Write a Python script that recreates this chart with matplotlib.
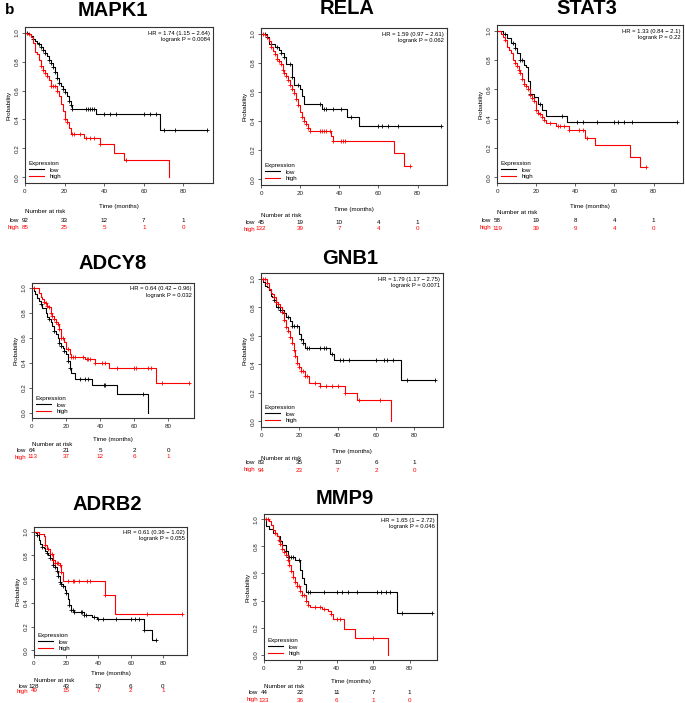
import numpy as np
import matplotlib
matplotlib.use('Agg')
import matplotlib.pyplot as plt
from matplotlib.transforms import blended_transform_factory

plt.rcParams['font.family'] = ['Liberation Sans', 'DejaVu Sans']

W, H = 685, 703
RED = '#ff0000'

# ---- data: step times / survival after step / censor times ----
mapk1_low_t = [2, 3, 4, 5, 6, 7, 8, 9, 10, 11, 12, 13, 14, 15, 16, 17, 18, 19, 20, 21, 22, 23, 24, 36, 68]
mapk1_low_s = [0.99, 0.98, 0.96, 0.94, 0.93, 0.92, 0.90, 0.88, 0.86, 0.84, 0.81, 0.79, 0.76, 0.73, 0.69, 0.65,
               0.63, 0.61, 0.59, 0.56, 0.53, 0.50, 0.47, 0.44, 0.33]
mapk1_low_c = [1, 4, 7, 8, 9, 10, 12, 13, 14, 15, 16, 17, 19, 20, 22, 23, 24, 31, 32, 33, 34, 35, 40, 43, 46,
               60, 63, 66, 70, 76, 92]
mapk1_high_t = [1, 3, 4, 5, 6, 7, 8, 9, 10, 11, 12, 13, 16, 17, 18, 19, 20, 21, 22, 23, 30, 38, 45, 50, 73]
mapk1_high_s = [0.99, 0.97, 0.93, 0.87, 0.85, 0.81, 0.77, 0.74, 0.72, 0.70, 0.67, 0.63, 0.60, 0.56, 0.51, 0.46,
                0.40, 0.38, 0.34, 0.30, 0.27, 0.23, 0.17, 0.12, 0.0]
mapk1_high_c = [2, 8, 9, 10, 11, 13, 14, 15, 16, 20, 21, 24, 25, 28, 31, 33, 35, 38, 51]

rela_low_t = [3, 4, 7, 9, 10, 12, 13, 16, 17, 20, 21, 22, 31, 44, 50]
rela_low_s = [0.98, 0.93, 0.91, 0.89, 0.87, 0.84, 0.79, 0.70, 0.645, 0.62, 0.57, 0.52, 0.48, 0.43, 0.365]
rela_low_c = [2, 3, 8, 10, 12, 15, 16, 19, 30, 32, 33, 37, 41, 46, 60, 62, 65, 70, 92]
rela_high_t = [2, 3, 4, 5, 6, 7, 8, 9, 10, 11, 12, 13, 14, 15, 16, 17, 18, 19, 20, 21, 22, 23, 24, 25, 36, 37,
               68, 73]
rela_high_s = [0.99, 0.97, 0.95, 0.91, 0.88, 0.86, 0.83, 0.81, 0.79, 0.75, 0.73, 0.71, 0.68, 0.65, 0.62, 0.59,
               0.55, 0.51, 0.46, 0.43, 0.40, 0.38, 0.35, 0.33, 0.30, 0.26, 0.18, 0.094]
rela_high_c = [1, 5, 7, 8, 9, 10, 11, 12, 13, 14, 15, 16, 17, 18, 19, 21, 22, 23, 24, 25, 30, 31, 32, 33, 35,
               37, 41, 42, 43, 76]

stat3_low_t = [3, 5, 7, 9, 10, 12, 14, 15, 16, 17, 19, 21, 23, 25, 36]
stat3_low_s = [0.98, 0.95, 0.92, 0.88, 0.85, 0.80, 0.77, 0.75, 0.66, 0.57, 0.55, 0.50, 0.46, 0.42, 0.375]
stat3_low_c = [4, 8, 9, 12, 13, 17, 22, 33, 41, 44, 51, 60, 62, 65, 69, 92]
stat3_high_t = [2, 3, 4, 5, 6, 7, 8, 9, 10, 11, 12, 13, 14, 15, 16, 17, 18, 19, 20, 21, 22, 23, 24, 25, 30, 37,
                45, 50, 68, 73]
stat3_high_s = [0.98, 0.96, 0.94, 0.89, 0.87, 0.85, 0.80, 0.78, 0.76, 0.73, 0.71, 0.67, 0.64, 0.62, 0.60, 0.56,
                0.54, 0.52, 0.46, 0.44, 0.43, 0.41, 0.39, 0.37, 0.35, 0.32, 0.27, 0.22, 0.14, 0.07]
stat3_high_c = [4, 9, 10, 11, 12, 13, 14, 15, 16, 17, 18, 19, 20, 21, 22, 23, 24, 27, 31, 32, 34, 37, 42, 44,
                46, 76]

adcy8_low_t = [1, 2, 3, 4, 5, 6, 8, 9, 10, 11, 12, 13, 14, 15, 16, 17, 18, 19, 20, 21, 22, 23, 25, 35, 50, 68]
adcy8_low_s = [0.98, 0.95, 0.92, 0.90, 0.87, 0.84, 0.80, 0.77, 0.75, 0.73, 0.70, 0.66, 0.63, 0.60, 0.56, 0.54,
               0.52, 0.50, 0.47, 0.42, 0.36, 0.32, 0.27, 0.225, 0.15, 0.0]
adcy8_low_c = [5, 10, 13, 16, 17, 19, 21, 22, 28, 31, 33, 42, 43, 65]
adcy8_high_t = [4, 5, 6, 7, 8, 9, 10, 11, 12, 13, 14, 15, 16, 17, 19, 20, 22, 23, 31, 37, 45, 73]
adcy8_high_s = [0.96, 0.93, 0.91, 0.89, 0.88, 0.86, 0.85, 0.80, 0.78, 0.75, 0.73, 0.71, 0.67, 0.60, 0.57, 0.51,
                0.47, 0.45, 0.43, 0.40, 0.36, 0.24]
adcy8_high_c = [1, 7, 8, 9, 10, 11, 12, 13, 14, 15, 16, 17, 18, 21, 23, 24, 25, 30, 32, 33, 34, 37, 41, 43, 50,
                60, 61, 68, 70, 76, 92]

gnb1_low_t = [1, 2, 3, 4, 5, 6, 7, 8, 10, 12, 13, 15, 16, 20, 21, 22, 23, 36, 38, 73]
gnb1_low_s = [0.98, 0.95, 0.94, 0.92, 0.88, 0.87, 0.85, 0.80, 0.78, 0.76, 0.73, 0.70, 0.67, 0.61, 0.58, 0.55,
              0.515, 0.47, 0.43, 0.29]
gnb1_low_c = [7, 9, 10, 11, 12, 14, 16, 17, 19, 21, 22, 24, 25, 31, 33, 34, 37, 41, 43, 46, 60, 64, 66, 69, 76, 91]
gnb1_high_t = [3, 4, 5, 6, 7, 8, 9, 10, 11, 12, 13, 14, 15, 16, 17, 18, 19, 20, 21, 23, 25, 31, 44, 50, 68]
gnb1_high_s = [0.97, 0.93, 0.90, 0.89, 0.87, 0.84, 0.82, 0.80, 0.77, 0.71, 0.66, 0.63, 0.59, 0.55, 0.50, 0.46,
               0.41, 0.38, 0.355, 0.32, 0.27, 0.246, 0.20, 0.152, 0.0]
gnb1_high_c = [1, 2, 3, 7, 8, 9, 11, 12, 13, 14, 15, 16, 17, 18, 19, 20, 21, 22, 23, 24, 28, 31, 34, 37, 40, 44,
               51, 62]

adrb2_low_t = [1, 2, 3, 4, 5, 6, 7, 8, 9, 10, 11, 12, 13, 14, 15, 16, 17, 18, 19, 20, 21, 22, 23, 25, 31, 36,
               39, 68, 73]
adrb2_low_s = [0.99, 0.97, 0.93, 0.90, 0.87, 0.86, 0.84, 0.82, 0.80, 0.78, 0.76, 0.72, 0.70, 0.67, 0.63, 0.58,
               0.56, 0.54, 0.51, 0.48, 0.43, 0.38, 0.34, 0.32, 0.30, 0.28, 0.26, 0.17, 0.084]
adrb2_low_c = [2, 5, 8, 10, 12, 13, 14, 15, 16, 17, 18, 20, 22, 23, 24, 25, 29, 30, 31, 32, 37, 40, 43, 51, 60,
               63, 65, 68, 76]
adrb2_high_t = [3, 6, 7, 8, 10, 12, 13, 16, 17, 18, 44, 50]
adrb2_high_s = [0.98, 0.96, 0.89, 0.855, 0.81, 0.76, 0.735, 0.72, 0.66, 0.585, 0.465, 0.31]
adrb2_high_c = [7, 9, 11, 12, 13, 14, 15, 16, 17, 21, 24, 25, 28, 33, 35, 44, 70, 92]

mmp9_low_t = [1, 3, 5, 7, 9, 10, 12, 13, 17, 20, 21, 22, 23, 73]
mmp9_low_s = [0.95, 0.93, 0.90, 0.88, 0.84, 0.81, 0.77, 0.725, 0.70, 0.625, 0.57, 0.52, 0.46, 0.31]
mmp9_low_c = [9, 12, 13, 14, 15, 16, 19, 24, 25, 33, 40, 43, 46, 51, 62, 64, 67, 69, 76, 92]
mmp9_high_t = [3, 4, 5, 6, 7, 8, 9, 10, 11, 12, 13, 14, 15, 16, 17, 18, 20, 21, 23, 24, 25, 32, 35, 37, 38, 44,
               50, 68]
mmp9_high_s = [0.99, 0.96, 0.92, 0.90, 0.88, 0.85, 0.82, 0.78, 0.76, 0.74, 0.70, 0.66, 0.62, 0.575, 0.54, 0.51,
               0.47, 0.44, 0.40, 0.37, 0.35, 0.34, 0.32, 0.30, 0.26, 0.19, 0.125, 0.0]
mmp9_high_c = [1, 2, 6, 8, 9, 10, 11, 12, 13, 14, 15, 16, 17, 18, 19, 20, 21, 22, 23, 24, 28, 31, 33, 37, 40,
               42, 60]

risk_times = [0, 20, 40, 60, 80]
mapk1_risk = ([92, 33, 12, 7, 1], [85, 25, 5, 1, 0])
rela_risk = ([45, 19, 10, 4, 1], [132, 39, 7, 4, 0])
stat3_risk = ([58, 19, 8, 4, 1], [119, 39, 9, 4, 0])
adcy8_risk = ([64, 21, 5, 2, 0], [113, 37, 12, 6, 1])
gnb1_risk = ([83, 35, 10, 6, 1], [94, 23, 7, 2, 0])
adrb2_risk = ([128, 43, 10, 6, 0], [49, 15, 7, 2, 1])
mmp9_risk = ([44, 22, 11, 7, 1], [133, 36, 6, 1, 0])

hr_text = {
    'MAPK1': ('1.74 (1.15 \u2212 2.64)', '0.0084'),
    'RELA': ('1.59 (0.97 \u2212 2.61)', '0.062'),
    'STAT3': ('1.33 (0.84 \u2212 2.1)', '0.22'),
    'ADCY8': ('0.64 (0.42 \u2212 0.96)', '0.032'),
    'GNB1': ('1.79 (1.17 \u2212 2.75)', '0.0071'),
    'ADRB2': ('0.61 (0.36 \u2212 1.02)', '0.055'),
    'MMP9': ('1.65 (1 \u2212 2.72)', '0.046'),
}

fig = plt.figure(figsize=(W / 100, H / 100), dpi=100)
fig.text(5 / W, 1 - 10 / H, 'b', fontsize=11, fontweight='bold', va='center', ha='left')


def fy(p):
    return 1 - p / H


def km(ax, t, s, c, end, color):
    tt = np.r_[0, t, end]
    ss = np.r_[1.0, s, s[-1]]
    ax.step(tt, ss, where='post', color=color, lw=0.8)
    c = np.array(c, float)
    idx = np.searchsorted(np.r_[0, t], c, side='right') - 1
    cy = np.r_[1.0, s][idx]
    ax.plot(c, cy, '+', color=color, ms=3.5, mew=0.6, ls='none')


def panel(name, box, title_xy, rows, low, high, risk):
    L, T, R, B = box
    ax = fig.add_axes([L / W, 1 - B / H, (R - L) / W, (B - T) / H])
    km(ax, *low, 'black')
    km(ax, *high, RED)
    ax.set_xlim(0, 95)
    ax.set_ylim(-0.04, 1.04)
    ax.set_xticks(risk_times)
    ax.set_yticks([0, 0.2, 0.4, 0.6, 0.8, 1.0])
    ax.set_yticklabels(['0.0', '0.2', '0.4', '0.6', '0.8', '1.0'], rotation=90, va='center')
    ax.tick_params(labelsize=4.5, length=2.5, width=0.5, pad=1.5, colors='#222222')
    for sp in ax.spines.values():
        sp.set_linewidth(0.8)
        sp.set_color('#333333')
    ax.set_ylabel('Probability', fontsize=4.5, labelpad=2)
    hr, p = hr_text[name]
    ax.text(0.985, 0.975, 'HR = ' + hr + '\nlogrank P = ' + p, transform=ax.transAxes,
            ha='right', va='top', fontsize=4.2, linespacing=1.3)
    ax.plot([], [], color='black', lw=0.8, label='low')
    ax.plot([], [], color=RED, lw=0.8, label='high')
    ax.legend(loc='lower left', title='Expression', frameon=False, fontsize=4.5, title_fontsize=4.5,
              alignment='left', handlelength=2.5, borderaxespad=0.3, labelspacing=0.2, borderpad=0.3)
    fig.text(title_xy[0] / W, fy(title_xy[1]), name, fontsize=14.5, fontweight='bold',
             ha='center', va='center')
    xl, nar, lo, hi = rows
    fig.text((L + R) / 2 / W, fy(xl), 'Time (months)', fontsize=4.5, ha='center', va='center')
    tr = blended_transform_factory(ax.transData, fig.transFigure)
    ax.text(0, fy(nar), 'Number at risk', transform=tr, fontsize=4.5, ha='left', va='center')
    fig.text((L - 6) / W, fy(lo), 'low', fontsize=4.5, ha='right', va='center')
    fig.text((L - 6) / W, fy(hi), 'high', fontsize=4.5, ha='right', va='center', color=RED)
    for x, a, b in zip(risk_times, risk[0], risk[1]):
        ax.text(x, fy(lo), str(a), transform=tr, fontsize=4.5, ha='center', va='center')
        ax.text(x, fy(hi), str(b), transform=tr, fontsize=4.5, ha='center', va='center', color=RED)
    return ax


panel('MAPK1', (25, 27, 213, 183), (113, 10), (207, 212, 220, 227),
      (mapk1_low_t, mapk1_low_s, mapk1_low_c, 92), (mapk1_high_t, mapk1_high_s, mapk1_high_c, 73), mapk1_risk)
panel('RELA', (261, 28, 447, 185), (347, 8), (209, 216, 222, 229),
      (rela_low_t, rela_low_s, rela_low_c, 92), (rela_high_t, rela_high_s, rela_high_c, 76), rela_risk)
panel('STAT3', (497, 25, 683, 183), (587, 8), (207, 213, 220, 228),
      (stat3_low_t, stat3_low_s, stat3_low_c, 92), (stat3_high_t, stat3_high_s, stat3_high_c, 76), stat3_risk)
panel('ADCY8', (32, 283, 194, 418), (113, 263), (439, 444, 451, 457),
      (adcy8_low_t, adcy8_low_s, adcy8_low_c, 68), (adcy8_high_t, adcy8_high_s, adcy8_high_c, 92), adcy8_risk)
panel('GNB1', (261, 273, 443, 427), (350, 259), (451, 458, 463, 470),
      (gnb1_low_t, gnb1_low_s, gnb1_low_c, 91), (gnb1_high_t, gnb1_high_s, gnb1_high_c, 68), gnb1_risk)
panel('ADRB2', (34, 527, 187, 655), (107, 505), (674, 680, 686, 691),
      (adrb2_low_t, adrb2_low_s, adrb2_low_c, 76), (adrb2_high_t, adrb2_high_s, adrb2_high_c, 92), adrb2_risk)
panel('MMP9', (264, 514, 437, 660), (345, 498), (681, 687, 693, 700),
      (mmp9_low_t, mmp9_low_s, mmp9_low_c, 92), (mmp9_high_t, mmp9_high_s, mmp9_high_c, 68), mmp9_risk)

fig.savefig('out.png', dpi=100)
